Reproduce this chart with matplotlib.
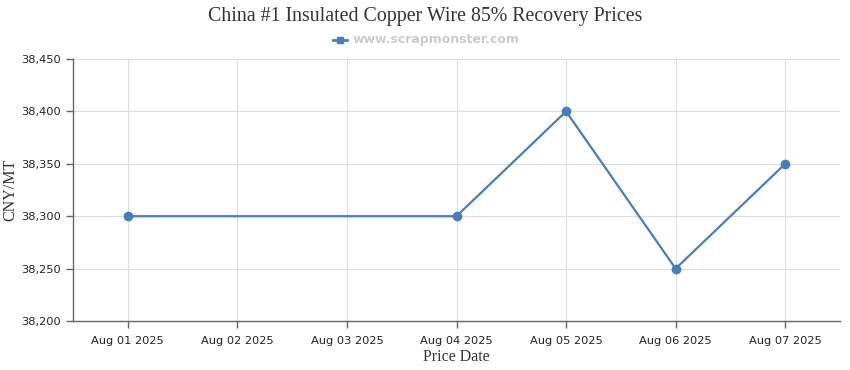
import matplotlib
matplotlib.use("Agg")
import matplotlib.pyplot as plt
import matplotlib.dates as mdates
from matplotlib.ticker import FuncFormatter, MultipleLocator
from matplotlib.lines import Line2D
import datetime as dt

# Data
dates = ["2025-08-01", "2025-08-04", "2025-08-05", "2025-08-06", "2025-08-07"]
prices = [38300, 38300, 38400, 38250, 38350]
tick_dates = ["2025-08-01", "2025-08-02", "2025-08-03", "2025-08-04",
              "2025-08-05", "2025-08-06", "2025-08-07"]
title = "China #1 Insulated Copper Wire 85% Recovery Prices"
legend_label = "www.scrapmonster.com"
x_label = "Price Date"
y_label = "CNY/MT"

x = [dt.datetime.strptime(d, "%Y-%m-%d") for d in dates]
xt = [dt.datetime.strptime(d, "%Y-%m-%d") for d in tick_dates]

color = "#4a7ebb"
fig = plt.figure(figsize=(8.5, 3.7), dpi=100)
ax = fig.add_axes([73/850, 1-321/370, (840-73)/850, (321-59)/370])

ax.plot(x, prices, color=color, lw=1.6, marker="o", ms=6, zorder=3)

ax.set_xlim(xt[0] - dt.timedelta(hours=12), xt[-1] + dt.timedelta(hours=12))
ax.set_xticks(xt)
ax.xaxis.set_major_formatter(mdates.DateFormatter("%b %d %Y"))
ax.set_ylim(38200, 38450)
ax.yaxis.set_major_locator(MultipleLocator(50))
ax.yaxis.set_major_formatter(FuncFormatter(lambda v, p: f"{int(v):,}"))

ax.grid(True, color="#dddddd", lw=0.8)
ax.set_axisbelow(True)
for s in ["top", "right"]:
    ax.spines[s].set_visible(False)
for s in ["left", "bottom"]:
    ax.spines[s].set_color("#666666")
    ax.spines[s].set_linewidth(1.0)
ax.tick_params(axis="both", colors="#666666", length=5, width=1, labelcolor="#222222",
               labelsize=8.2)
ax.tick_params(axis="x", pad=6)
for lbl in ax.get_xticklabels() + ax.get_yticklabels():
    lbl.set_family("DejaVu Sans")

ax.set_xlabel(x_label, family="Liberation Serif", fontsize=11.5, color="#333333", labelpad=2)
ax.set_ylabel(y_label, family="Liberation Serif", fontsize=11.5, color="#333333", labelpad=2)

fig.text(0.5, 1-16/370, title, ha="center", va="center", family="Liberation Serif",
         fontsize=14.3, color="#333333")
fig.text(353/850, 1-40/370, legend_label, ha="left", va="center", family="DejaVu Sans",
         fontsize=9, fontweight="bold", color="#cccccc")
leg_line = Line2D([333/850, 347/850], [1-40/370, 1-40/370], transform=fig.transFigure,
                  color=color, lw=2)
leg_mark = Line2D([340/850], [1-40/370], transform=fig.transFigure, color=color,
                  marker="s", ms=5, lw=0)
fig.add_artist(leg_line)
fig.add_artist(leg_mark)

fig.savefig("out.png", dpi=100)
